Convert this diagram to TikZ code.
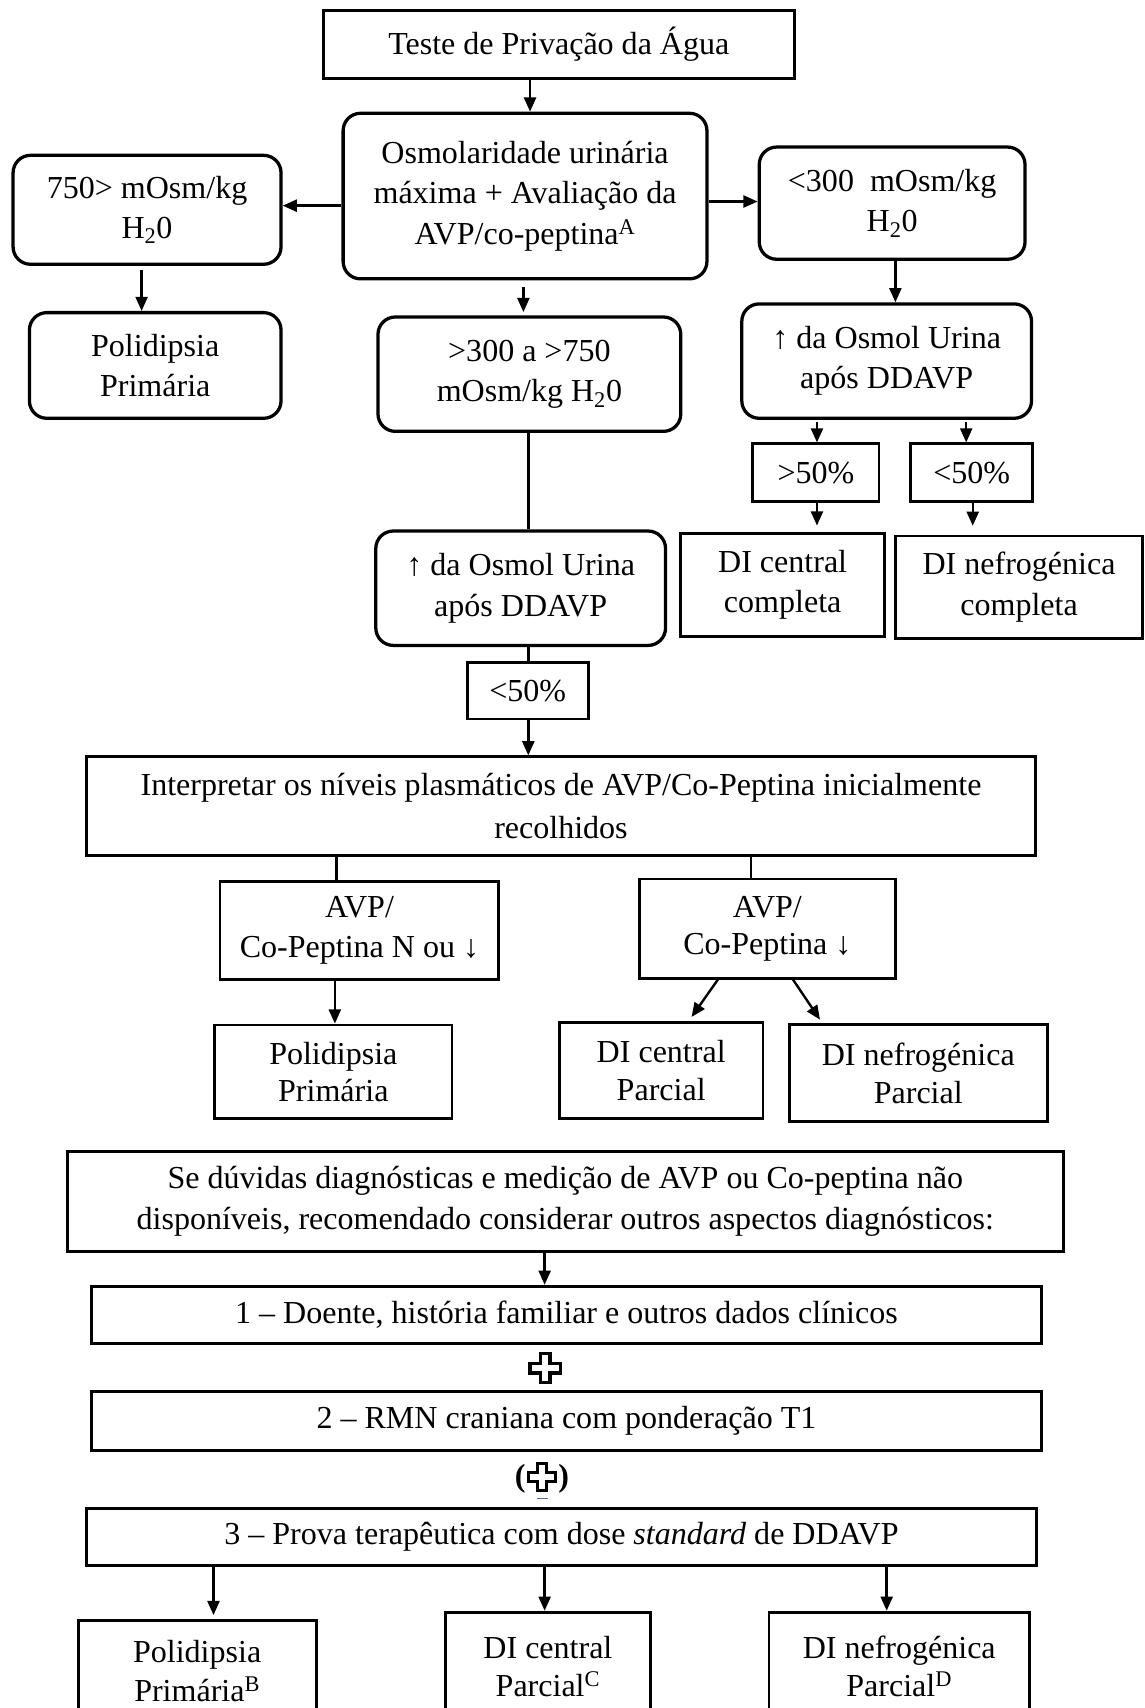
\documentclass[tikz,border=0pt]{standalone}
\usepackage{fontspec}
\setmainfont{Liberation Serif}
\usetikzlibrary{arrows.meta}
\begin{document}
\begin{tikzpicture}[x=1pt,y=-1pt,
  txt/.style={font=\fontsize{29.4}{37}\selectfont, align=center, inner sep=0pt},
  rbox/.style={txt, draw, line width=3pt, rounded corners=16pt},
  sbox/.style={txt, draw, line width=2.6pt},
  arr/.style={line width=2.2pt, -{Triangle[length=13pt,width=11pt]}},
  lin/.style={line width=2.2pt},
  plusmark/.style={line width=3pt, fill=white, line join=miter},
]
\useasboundingbox (0,0) rectangle (1051,1568);
\clip (0,0) rectangle (1051,1568);

% row 1
\node[sbox, minimum width=432pt, minimum height=62pt] (teste) at (513,41) {Teste de Privação da Água};
\node[rbox, minimum width=334pt, minimum height=152pt] (osm) at (482,180) {Osmolaridade urinária\\máxima + Avaliação da\\AVP/co-peptina\textsuperscript{A}};
\node[rbox, minimum width=246pt, minimum height=100pt] (a750) at (135,192.6) {750> mOsm/kg\\H\textsubscript{2}0};
\node[rbox, minimum width=244pt, minimum height=103pt] (lt300) at (819,186.5) {<300\ \ mOsm/kg\\H\textsubscript{2}0};

% row 2
\node[rbox, minimum width=231pt, minimum height=97pt] (pp1) at (142.5,335.5) {Polidipsia\\Primária};
\node[rbox, minimum width=278pt, minimum height=105pt] (mid300) at (486,343.5) {>300 a >750\\mOsm/kg H\textsubscript{2}0};
\node[rbox, minimum width=266pt, minimum height=105pt] (ddR) at (814,331.5) {↑ da Osmol Urina\\após DDAVP};

% right column
\node[sbox, minimum width=116pt, minimum height=53pt] (gt50) at (749,434) {>50\%};
\node[sbox, minimum width=112pt, minimum height=53pt] (lt50R) at (892,434) {<50\%};
\node[sbox, minimum width=187pt, minimum height=94.5pt] (dicc) at (718.5,537) {DI central\\completa};
\node[sbox, minimum width=227pt, minimum height=94pt] (dinc) at (935.5,539) {DI nefrogénica\\completa};

% middle column
\node[rbox, minimum width=266pt, minimum height=105pt] (ddM) at (478,540) {↑ da Osmol Urina\\após DDAVP};
\node[sbox, minimum width=111pt, minimum height=52pt] (lt50M) at (484.5,634) {<50\%};
\node[sbox, minimum width=871.5pt, minimum height=90.5pt, font=\fontsize{29.4}{40}\selectfont] (interp) at (515,740) {Interpretar os níveis plasmáticos de AVP/Co-Peptina inicialmente\\recolhidos};

\node[sbox, minimum width=256pt, minimum height=90pt, font=\fontsize{29.4}{36}\selectfont] (avpN) at (330,854) {AVP/\\Co-Peptina N ou ↓};
\node[sbox, minimum width=235pt, minimum height=91pt, font=\fontsize{29.4}{34}\selectfont] (avpD) at (704.5,852.5) {AVP/\\Co-Peptina ↓};

\node[sbox, minimum width=218pt, minimum height=86pt, font=\fontsize{29.4}{34}\selectfont] (pp2) at (306,984) {Polidipsia\\Primária};
\node[sbox, minimum width=187pt, minimum height=88pt, font=\fontsize{29.4}{35}\selectfont] (dicp) at (607,983) {DI central\\Parcial};
\node[sbox, minimum width=237pt, minimum height=88.6pt, font=\fontsize{29.4}{35}\selectfont] (dinp) at (843,985) {DI nefrogénica\\Parcial};

\node[sbox, minimum width=914pt, minimum height=92pt, font=\fontsize{29.4}{38}\selectfont] (se) at (519,1103) {Se dúvidas diagnósticas e medição de AVP ou Co-peptina não\\disponíveis, recomendado considerar outros aspectos diagnósticos:};
\node[sbox, minimum width=872pt, minimum height=52.5pt] (one) at (520,1207) {1 – Doente, história familiar e outros dados clínicos};
\node[sbox, minimum width=872pt, minimum height=54pt] (two) at (520,1304.5) {2 – RMN craniana com ponderação T1};
\node[sbox, minimum width=872pt, minimum height=52.5pt] (three) at (515.5,1411) {3 – Prova terapêutica com dose \textit{standard} de DDAVP};

\node[sbox, minimum width=218.5pt, minimum height=92pt, font=\fontsize{29.4}{35}\selectfont] (ppB) at (181,1534) {Polidipsia\\Primária\textsuperscript{B}};
\node[sbox, minimum width=188.5pt, minimum height=100pt, font=\fontsize{29.4}{35}\selectfont] (dicC) at (503,1530) {DI central\\Parcial\textsuperscript{C}};
\node[sbox, minimum width=239pt, minimum height=100pt, font=\fontsize{29.4}{35}\selectfont] (dinD) at (825.5,1530) {DI nefrogénica\\Parcial\textsuperscript{D}};

% plus signs
\draw[plusmark] (496,1242.5) -- (505,1242.5) -- (505,1251.5) -- (514.5,1251.5) -- (514.5,1260.5) -- (505,1260.5) -- (505,1269.5) -- (496,1269.5) -- (496,1260.5) -- (486.5,1260.5) -- (486.5,1251.5) -- (496,1251.5) -- cycle;
\draw[plusmark] (493.5,1343.5) -- (501.5,1343.5) -- (501.5,1352) -- (510,1352) -- (510,1360) -- (501.5,1360) -- (501.5,1368.5) -- (493.5,1368.5) -- (493.5,1360) -- (485,1360) -- (485,1352) -- (493.5,1352) -- cycle;
\node[txt, font=\fontsize{29.4}{35}\selectfont\bfseries] (lpar) at (477.5,1358) {(};
\node[txt, font=\fontsize{29.4}{35}\selectfont\bfseries] (rpar) at (517.5,1358) {)};
\draw[line width=1.5pt, color={rgb,255:red,80;green,110;blue,160}] (493,1375.5) -- (503,1375.5);

% connectors
\draw[arr] (486.6,0 |- teste.south) -- (486.6,0 |- osm.north);
\draw[arr] (osm.west |- 0,188.8) -- (a750.east |- 0,188.8);
\draw[arr] (osm.east |- 0,185) -- (lt300.west |- 0,185);
\draw[arr, shorten <=4pt] (130,0 |- a750.south) -- (130,0 |- pp1.north);
\draw[arr, shorten <=6pt, shorten >=3pt] (480.5,0 |- osm.south) -- (480.5,0 |- mid300.north);
\draw[arr] (822,0 |- lt300.south) -- (822,0 |- ddR.north);
\draw[arr, shorten <=2pt] (750,0 |- ddR.south) -- (750,0 |- gt50.north);
\draw[arr, shorten <=2pt] (887,0 |- ddR.south) -- (887,0 |- lt50R.north);
\draw[arr, shorten >=6pt] (750,0 |- gt50.south) -- (750,0 |- dicc.north);
\draw[arr, shorten >=8pt] (893,0 |- lt50R.south) -- (893,0 |- dinc.north);
\draw[lin] (485,0 |- mid300.south) -- (485,0 |- ddM.north);
\draw[lin] (485,0 |- ddM.south) -- (485,0 |- lt50M.north);
\draw[arr] (485,0 |- lt50M.south) -- (485,0 |- interp.north);
\draw[lin] (309,0 |- interp.south) -- (309,0 |- avpN.north);
\draw[lin] (689.5,0 |- interp.south) -- (689.5,0 |- avpD.north);
\draw[arr] (307.4,0 |- avpN.south) -- (307.4,0 |- pp2.north);
\draw[arr, shorten >=5pt] (659,0 |- avpD.south) -- (632,0 |- dicp.north);
\draw[arr, shorten >=4pt] (728,0 |- avpD.south) -- (755,0 |- dinp.north);
\draw[arr] (500,0 |- se.south) -- (500,0 |- one.north);
\draw[arr, shorten >=4pt] (196,0 |- three.south) -- (196,0 |- ppB.north);
\draw[arr] (500,0 |- three.south) -- (500,0 |- dicC.north);
\draw[arr] (814,0 |- three.south) -- (814,0 |- dinD.north);
\end{tikzpicture}
\end{document}
